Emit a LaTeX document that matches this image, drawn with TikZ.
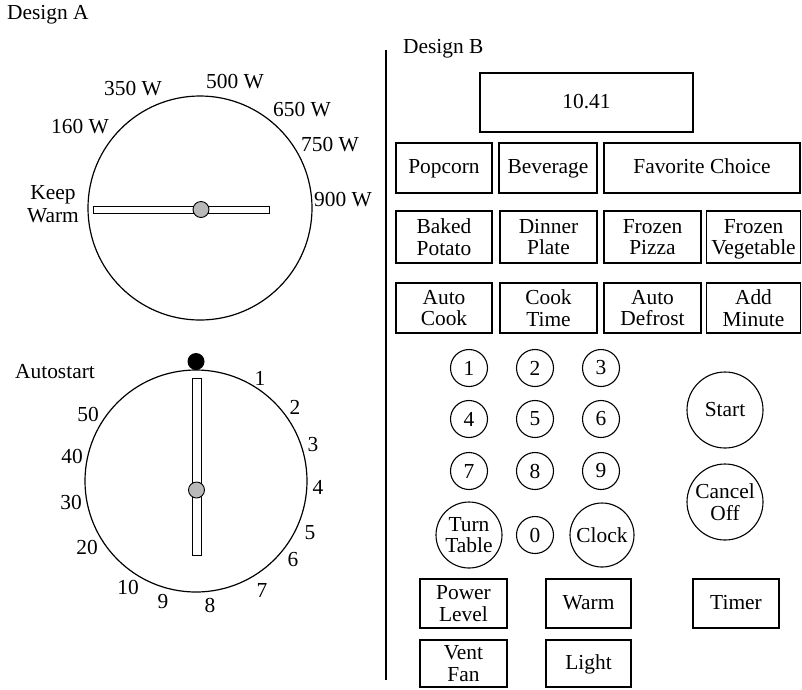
\documentclass[tikz,border=0pt]{standalone}
\usepackage{fontspec}
\setmainfont{Liberation Serif}
\usepackage{tikz}
\definecolor{knobGray}{RGB}{185,185,185}

\begin{document}
\begin{tikzpicture}[x=1pt,y=-1pt,
    font=\fontsize{21.4}{21.5}\selectfont,
    lbl/.style={inner sep=0pt, align=center},
    btn/.style={draw, line width=1.2pt, inner sep=0pt, align=center},
    oneline/.style={btn, text height=14pt, text depth=3pt},
    key/.style={draw, circle, line width=1.1pt, inner sep=0pt, minimum size=37pt, align=center},
    bigkey/.style={key, minimum size=76pt}]
  \useasboundingbox (0,0) rectangle (802,689);

  % Design A: power dial
  \node[lbl, anchor=west] (titleA) at (7,15) {Design A};
  \draw[line width=1.2pt] (200,208) circle (112pt);
  \draw[line width=0.9pt, fill=white] (93,206) rectangle (269,213);
  \draw[line width=0.9pt, fill=knobGray] (201,209.5) circle (8pt);
  \node[lbl] (w160) at (80,127) {160 W};
  \node[lbl] (w350) at (133,89) {350 W};
  \node[lbl] (w500) at (235,82) {500 W};
  \node[lbl] (w650) at (302,110) {650 W};
  \node[lbl] (w750) at (330,145) {750 W};
  \node[lbl] (w900) at (343,200) {900 W};
  \node[lbl, font=\fontsize{21.4}{23.5}\selectfont] (keepwarm) at (53,204) {Keep\\Warm};

  % Design A: autostart dial
  \node[lbl] (autostart) at (55,372) {Autostart};
  \draw[line width=1.2pt] (196,481) circle (111pt);
  \draw[line width=0.9pt, fill=white] (192,378) rectangle (201,555);
  \draw[line width=0.9pt, fill=knobGray] (196.5,490) circle (8pt);
  \fill (196,361.5) circle (8.5pt);
  \foreach \t/\x/\y in {1/260/378, 2/295/407, 3/313/445, 4/318/487, 5/310/533,
      6/293/560, 7/262/590, 8/210/605, 9/163/602, 10/128/587,
      20/87/547, 30/71/502, 40/72/456, 50/88/414}
    \node[lbl] (mark\t) at (\x,\y) {\t};

  % divider
  \draw[line width=1.3pt] (386,50) -- (386,680);

  % Design B: panel
  \node[lbl, anchor=west] (titleB) at (403,49) {Design B};
  \node[oneline, minimum width=213pt, minimum height=59pt] (display) at (586.5,102.5) {10.41};

  \node[oneline, minimum width=96pt, minimum height=50pt] (popcorn) at (444,168) {Popcorn};
  \node[oneline, minimum width=98pt, minimum height=50pt] (beverage) at (548,168) {Beverage};
  \node[oneline, minimum width=196pt, minimum height=50pt] (favorite) at (702,168) {Favorite Choice};

  \node[btn, minimum width=96pt, minimum height=52pt] (potato) at (444,237) {Baked\\Potato};
  \node[btn, minimum width=97pt, minimum height=52pt] (dinner) at (548.5,237) {Dinner\\Plate};
  \node[btn, minimum width=97pt, minimum height=52pt] (pizza) at (652.5,237) {Frozen\\Pizza};
  \node[btn, text depth=0pt, minimum width=94pt, minimum height=52pt] (vegetable) at (753.5,237) {Frozen\\Vegetable};

  \node[btn, minimum width=96pt, minimum height=50pt] (autocook) at (444,308) {Auto\\Cook};
  \node[btn, minimum width=97pt, minimum height=50pt] (cooktime) at (548.5,308) {Cook\\Time};
  \node[btn, minimum width=97pt, minimum height=50pt] (defrost) at (652.5,308) {Auto\\Defrost};
  \node[btn, minimum width=94pt, minimum height=50pt] (addmin) at (753.5,308) {Add\\Minute};

  % keypad
  \node[key] (k1) at (469,368) {1};
  \node[key] (k2) at (535,368) {2};
  \node[key] (k3) at (601,368) {3};
  \node[key] (k4) at (469,419) {4};
  \node[key] (k5) at (535,419) {5};
  \node[key] (k6) at (601,419) {6};
  \node[key] (k7) at (469,471) {7};
  \node[key] (k8) at (535,471) {8};
  \node[key] (k9) at (601,471) {9};
  \node[key, minimum size=66pt] (turntable) at (469,535) {Turn\\Table};
  \node[key] (k0) at (535,535) {0};
  \node[key, minimum size=64pt] (clock) at (602,535) {Clock};
  \node[bigkey] (start) at (725,410) {Start};
  \node[bigkey] (cancel) at (725,502) {Cancel\\Off};

  \node[btn, minimum width=87pt, minimum height=49pt] (power) at (463.5,603.5) {Power\\Level};
  \node[oneline, minimum width=85pt, minimum height=49pt] (warm) at (588.5,603.5) {Warm};
  \node[oneline, minimum width=86pt, minimum height=49pt] (timer) at (736,603.5) {Timer};
  \node[btn, minimum width=87pt, minimum height=47pt] (vent) at (463.5,663.5) {Vent\\Fan};
  \node[oneline, minimum width=85pt, minimum height=47pt] (light) at (588.5,663.5) {Light};
\end{tikzpicture}
\end{document}
